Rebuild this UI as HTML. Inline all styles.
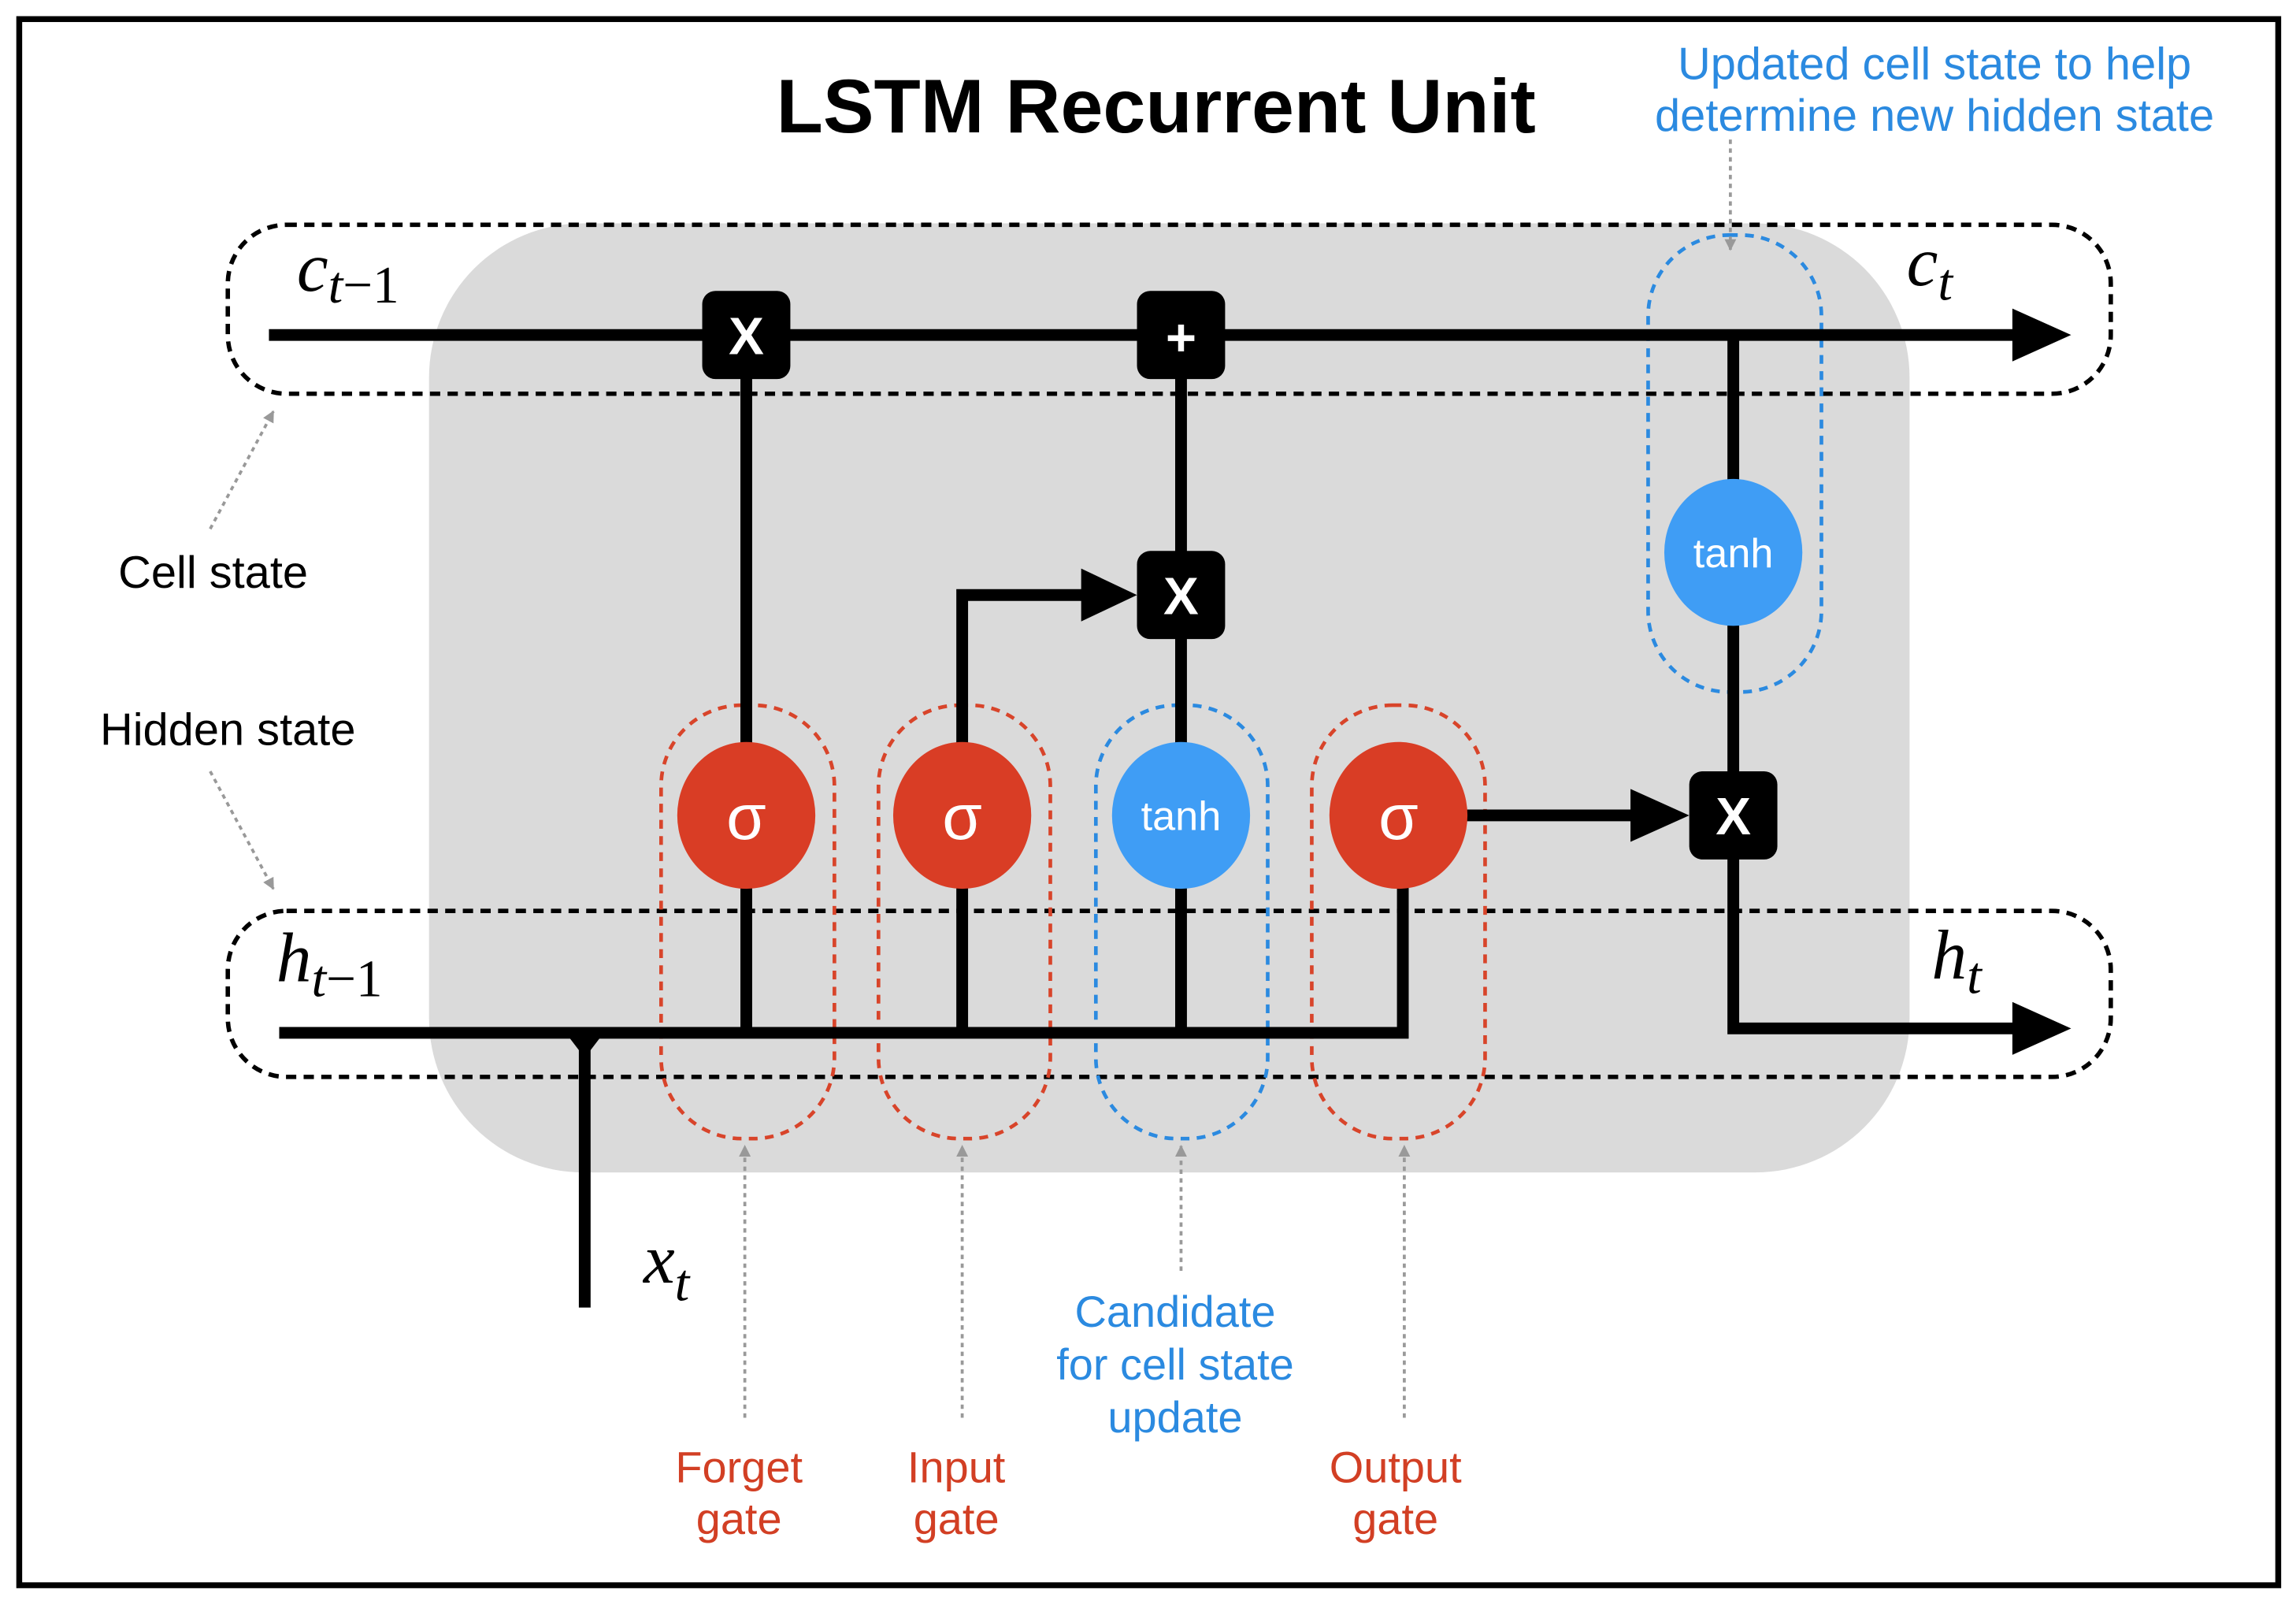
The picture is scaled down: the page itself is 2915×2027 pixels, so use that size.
<!DOCTYPE html>
<html><head><meta charset="utf-8"><style>
html,body{margin:0;padding:0;background:#fff;}
svg{display:block;}
text{font-family:"Liberation Sans",sans-serif;}
text.m{font-family:"Liberation Serif",serif;font-style:italic;}
</style></head><body>
<svg width="2915" height="2027" viewBox="0 0 1563 1087" xmlns="http://www.w3.org/2000/svg">
<defs>
<marker id="ga" viewBox="0 0 10 10" refX="9" refY="5" markerWidth="4" markerHeight="4" orient="auto-start-reverse"><path d="M0,0L10,5L0,10z" fill="#999"/></marker>
</defs>
<rect x="0" y="0" width="1563" height="1087" fill="#fff"/>
<rect x="13" y="13" width="1538" height="1066" fill="#fff" stroke="#000" stroke-width="4"/>
<text x="787" y="90" font-size="52" font-weight="bold" text-anchor="middle">LSTM Recurrent Unit</text>
<text x="1317" y="54" font-size="31" fill="#2b8ae0" text-anchor="middle">Updated cell state to help</text>
<text x="1317" y="89" font-size="31" fill="#2b8ae0" text-anchor="middle">determine new hidden state</text>
<rect x="292" y="152" width="1008" height="646" rx="105" fill="#dadada"/>
<g fill="none" stroke="#000" stroke-width="3" stroke-dasharray="7,5">
<rect x="155" y="153" width="1282" height="115" rx="40"/>
<rect x="155" y="620" width="1282" height="113" rx="40"/>
</g>
<g fill="none" stroke-width="2.5" stroke-dasharray="6,5">
<rect x="450" y="480" width="118" height="295" rx="55" stroke="#d8442a"/>
<rect x="598" y="480" width="117" height="295" rx="55" stroke="#d8442a"/>
<rect x="746" y="480" width="117" height="295" rx="55" stroke="#2b8ae0"/>
<rect x="893" y="480" width="118" height="295" rx="55" stroke="#d8442a"/>
<rect x="1122" y="160" width="118" height="311" rx="55" stroke="#2b8ae0"/>
</g>
<g stroke="#000" stroke-width="8" fill="none">
<line x1="183" y1="228" x2="1380" y2="228"/>
<line x1="508" y1="228" x2="508" y2="703"/>
<line x1="804" y1="228" x2="804" y2="703"/>
<polyline points="655,703 655,405 745,405"/>
<polyline points="190,703 955,703 955,555"/>
<line x1="995" y1="555" x2="1120" y2="555"/>
<polyline points="1180,228 1180,700 1380,700"/>
<line x1="398" y1="703" x2="398" y2="890"/>
</g>
<path d="M385,703L411,703L398,720z" fill="#000"/>
<path d="M1370,210L1410,228L1370,246z" fill="#000"/>
<path d="M1370,682L1410,700L1370,718z" fill="#000"/>
<path d="M736,387L774,405L736,423z" fill="#000"/>
<path d="M1110,537L1150,555L1110,573z" fill="#000"/>
<g fill="#000">
<rect x="478" y="198" width="60" height="60" rx="9"/>
<rect x="774" y="198" width="60" height="60" rx="9"/>
<rect x="774" y="375" width="60" height="60" rx="9"/>
<rect x="1150" y="525" width="60" height="60" rx="9"/>
</g>
<g fill="#fff" font-size="36" font-weight="bold" text-anchor="middle">
<text x="508" y="241">X</text>
<text x="804" y="242">+</text>
<text x="804" y="418">X</text>
<text x="1180" y="568">X</text>
</g>
<g>
<ellipse cx="508" cy="555" rx="47" ry="50" fill="#d93d25"/>
<ellipse cx="655" cy="555" rx="47" ry="50" fill="#d93d25"/>
<ellipse cx="952" cy="555" rx="47" ry="50" fill="#d93d25"/>
<ellipse cx="804" cy="555" rx="47" ry="50" fill="#3f9df5"/>
<ellipse cx="1180" cy="376" rx="47" ry="50" fill="#3f9df5"/>
</g>
<g fill="#fff" text-anchor="middle">
<text x="508" y="571" font-size="44">σ</text>
<text x="655" y="571" font-size="44">σ</text>
<text x="952" y="571" font-size="44">σ</text>
<text x="804" y="565" font-size="28">tanh</text>
<text x="1180" y="386" font-size="28">tanh</text>
</g>
<g font-size="48">
<text class="m" x="202" y="198">c<tspan font-size="36" dy="8">t</tspan><tspan style="font-style:normal" font-size="36">−1</tspan></text>
<text class="m" x="1298" y="194">c<tspan font-size="36" dy="10">t</tspan></text>
<text class="m" x="188" y="668">h<tspan font-size="36" dy="10">t</tspan><tspan style="font-style:normal" font-size="36">−1</tspan></text>
<text class="m" x="1315" y="666">h<tspan font-size="36" dy="10">t</tspan></text>
<text class="m" x="438" y="873">x<tspan font-size="36" dy="12">t</tspan></text>
</g>
<g font-size="31" text-anchor="middle">
<text x="145" y="400">Cell state</text>
<text x="155" y="507">Hidden state</text>
</g>
<g stroke="#999" stroke-width="2" stroke-dasharray="3,3" fill="none" marker-end="url(#ga)">
<line x1="143" y1="360" x2="186" y2="280"/>
<line x1="143" y1="525" x2="186" y2="605"/>
<line x1="507" y1="965" x2="507" y2="780"/>
<line x1="655" y1="965" x2="655" y2="780"/>
<line x1="804" y1="865" x2="804" y2="780"/>
<line x1="956" y1="965" x2="956" y2="780"/>
<line x1="1178" y1="95" x2="1178" y2="170"/>
</g>
<g font-size="30" text-anchor="middle" fill="#d23f24">
<text x="503" y="1009">Forget</text><text x="503" y="1044">gate</text>
<text x="651" y="1009">Input</text><text x="651" y="1044">gate</text>
<text x="950" y="1009">Output</text><text x="950" y="1044">gate</text>
</g>
<g font-size="30" text-anchor="middle" fill="#2b8ae0">
<text x="800" y="903">Candidate</text>
<text x="800" y="939">for cell state</text>
<text x="800" y="975">update</text>
</g>
</svg>
</body></html>
